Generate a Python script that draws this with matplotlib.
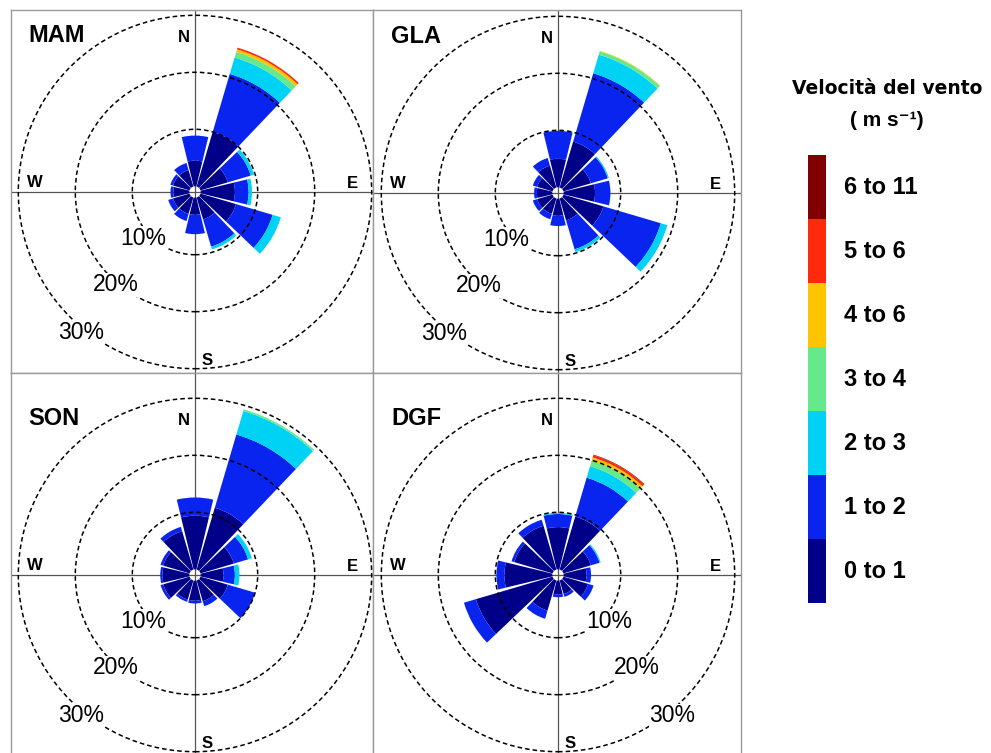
import numpy as np
import matplotlib
matplotlib.use('Agg')
import matplotlib.pyplot as plt
from matplotlib.patches import Wedge, Circle

plt.rcParams['font.family'] = ['Liberation Sans', 'DejaVu Sans']

# wind sectors (degrees clockwise from north) and speed classes
directions = np.arange(0, 360, 30)
speed_labels = ['0 to 1', '1 to 2', '2 to 3', '3 to 4', '4 to 6', '5 to 6', '6 to 11']
speed_colors = ['#000088', '#0a24f0', '#00d2f5', '#66e88c', '#ffc400', '#ff2a0a', '#800000']
seasons = ['MAM', 'GLA', 'SON', 'DGF']

# frequency (%) for each sector, one value per speed class
mam = [[4.5, 4.4, 0, 0, 0, 0, 0],
       [10.0, 10.6, 3.0, 1.0, 0.5, 0.3, 0],
       [5.0, 4.2, 0.6, 0, 0, 0, 0],
       [6.0, 2.4, 0.6, 0, 0, 0, 0],
       [6.5, 6.7, 1.5, 0, 0, 0, 0],
       [4.0, 5.0, 0.5, 0, 0, 0, 0],
       [3.0, 3.4, 0, 0, 0, 0, 0],
       [3.0, 1.3, 0, 0, 0, 0, 0],
       [3.0, 0.9, 0, 0, 0, 0, 0],
       [2.8, 0.5, 0, 0, 0, 0, 0],
       [3.0, 0.5, 0, 0, 0, 0, 0],
       [3.0, 1.3, 0, 0, 0, 0, 0]]
gla = [[5.0, 4.9, 0, 0, 0, 0, 0],
       [8.4, 12.5, 3.4, 0.6, 0.1, 0, 0],
       [5.0, 3.1, 0.2, 0, 0, 0, 0],
       [5.5, 2.7, 0, 0, 0, 0, 0],
       [7.3, 10.5, 1.2, 0, 0, 0, 0],
       [4.0, 5.3, 0.5, 0, 0, 0, 0],
       [3.0, 1.8, 0, 0, 0, 0, 0],
       [2.8, 1.0, 0, 0, 0, 0, 0],
       [2.8, 0.8, 0, 0, 0, 0, 0],
       [2.7, 0.5, 0, 0, 0, 0, 0],
       [2.8, 0.8, 0, 0, 0, 0, 0],
       [4.0, 1.4, 0, 0, 0, 0, 0]]
son = [[9.4, 3.2, 0, 0, 0, 0, 0],
       [11.3, 13.4, 4.3, 0.3, 0, 0, 0],
       [6.1, 2.6, 0.7, 0, 0, 0, 0],
       [4.0, 2.0, 0.8, 0, 0, 0, 0],
       [5.0, 5.0, 0, 0, 0, 0, 0],
       [3.8, 0.9, 0, 0, 0, 0, 0],
       [3.5, 0.5, 0, 0, 0, 0, 0],
       [3.5, 0.4, 0, 0, 0, 0, 0],
       [4.8, 0.5, 0, 0, 0, 0, 0],
       [4.7, 0.4, 0, 0, 0, 0, 0],
       [4.8, 0.5, 0, 0, 0, 0, 0],
       [7.0, 0.8, 0, 0, 0, 0, 0]]
dgf = [[7.4, 2.3, 0.2, 0, 0, 0, 0],
       [9.7, 7.1, 2.1, 1.0, 0.6, 0.4, 0.1],
       [5.0, 1.6, 0.2, 0, 0, 0, 0],
       [4.0, 0.8, 0, 0, 0, 0, 0],
       [4.5, 1.0, 0, 0, 0, 0, 0],
       [2.5, 0.5, 0, 0, 0, 0, 0],
       [2.4, 0.5, 0, 0, 0, 0, 0],
       [5.5, 1.5, 0, 0, 0, 0, 0],
       [14.0, 2.2, 0, 0, 0, 0, 0],
       [8.4, 1.4, 0, 0, 0, 0, 0],
       [7.0, 0.5, 0, 0, 0, 0, 0],
       [8.0, 1.1, 0, 0, 0, 0, 0]]
rings = [10, 20, 30]

W, H = 991, 753
k = 5.7      # pixels per percent
hole = 1.0   # empty centre, in percent

fig = plt.figure(figsize=(W / 100, H / 100), dpi=100)

# panel boxes (px, from top-left) and rose centres
panels = [(11, 373, 10, 373, 195, 192),
          (373, 741, 10, 373, 558, 193),
          (11, 373, 373, 756, 195, 575),
          (373, 741, 373, 756, 558, 575)]


def rose(ax, freq, name, box, labels_right):
    x0, x1, y0, y1, cx, cy = box
    ax.set_xlim((x0 - cx) / k, (x1 - cx) / k)
    ax.set_ylim((cy - y1) / k, (cy - y0) / k)
    ax.set_xticks([])
    ax.set_yticks([])
    for s in ax.spines.values():
        s.set_color('#9a9a9a')
        s.set_linewidth(1.0)

    ax.axhline(0, color='#555555', lw=0.9, zorder=1)
    ax.axvline(0, color='#555555', lw=0.9, zorder=1)

    freq = np.array(freq)
    half = 13.6
    for d, row in zip(directions, freq):
        cum = np.concatenate([[0], np.cumsum(row)])
        for i, v in enumerate(row):
            if v <= 0:
                continue
            ax.add_patch(Wedge((0, 0), hole + cum[i + 1], 90 - d - half, 90 - d + half,
                               width=v, facecolor=speed_colors[i], edgecolor='none',
                               zorder=3))

    for r in rings:
        ax.add_patch(Circle((0, 0), hole + r, fill=False, edgecolor='black', lw=1.1,
                            linestyle=(0, (3, 2)), zorder=4))

    # ring labels along the south-west (or south-east) diagonal
    lab_bear = [228, 220.5, 219]
    lab_rad = [12.1, 21.4, 31.8]
    for r, b, rr in zip(rings, lab_bear, lab_rad):
        if labels_right:
            b = 360 - b
        t = np.radians(b)
        ax.text(rr * np.sin(t), rr * np.cos(t), '%d%%' % r, fontsize=16.5,
                ha='center', va='center', zorder=5,
                bbox=dict(facecolor='white', edgecolor='none', pad=0.3))

    ax.text(-0.9, 27.1, 'N', fontsize=12, weight='bold', ha='right', va='center', zorder=5)
    ax.text(28.6, 0.1, 'E', fontsize=12, weight='bold', ha='right', va='bottom', zorder=5)
    ax.text(-29.5, 0.3, 'W', fontsize=12, weight='bold', ha='left', va='bottom', zorder=5)
    ax.text(1.2, -29.5, 'S', fontsize=12, weight='bold', ha='left', va='center', zorder=5)
    ax.text(-29.3, 27.4, name, fontsize=17, weight='bold', ha='left', va='center', zorder=5)


for name, freq, box in zip(seasons, [mam, gla, son, dgf], panels):
    x0, x1, y0, y1 = box[:4]
    ax = fig.add_axes([x0 / W, 1 - y1 / H, (x1 - x0) / W, (y1 - y0) / H])
    rose(ax, freq, name, box, name == 'DGF')

# speed class legend
lx0, lx1, ly0, ly1 = 808, 826, 155, 603
lax = fig.add_axes([lx0 / W, 1 - ly1 / H, (lx1 - lx0) / W, (ly1 - ly0) / H])
lax.set_xlim(0, 1)
lax.set_ylim(0, len(speed_labels))
lax.axis('off')
for i, (lab, col) in enumerate(zip(speed_labels, speed_colors)):
    lax.bar(0.5, 1, bottom=i, width=1, color=col)
    lax.text(2.0, i + 0.5, lab, fontsize=17, weight='bold', ha='left', va='center')

fig.text(887 / W, 1 - 89 / H, 'Velocità del vento', fontsize=13.5, weight='bold',
         family='DejaVu Sans', ha='center', va='center')
fig.text(887 / W, 1 - 121 / H, '( m s⁻¹)', fontsize=15, weight='bold',
         ha='center', va='center')

fig.savefig('out.png', dpi=100)
